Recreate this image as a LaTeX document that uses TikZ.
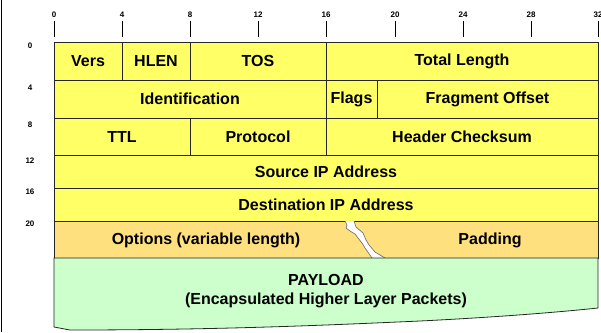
\documentclass[tikz,border=0pt]{standalone}
\usepackage{fontspec}
\setmainfont{Liberation Sans}
\usepackage{tikz}
\usetikzlibrary{positioning}
\definecolor{hdryellow}{HTML}{FFFF66}
\definecolor{optorange}{HTML}{FFE07F}
\definecolor{paygreen}{HTML}{CCFFCC}
\tikzset{field/.style = {draw=black!85, fill=hdryellow, line width=0.8pt, inner sep=0,
                         font=\fontsize{16}{18}\selectfont\bfseries}}
\tikzset{num/.style = {inner sep=0, font=\fontsize{8}{9}\selectfont\bfseries}}
\tikzset{tick/.style = {line width=0.8pt}}
\tikzset{lbl/.style = {inner sep=0, align=center, font=\fontsize{16}{19}\selectfont\bfseries}}

\begin{document}
\begin{tikzpicture}[x=1pt, y=-1pt]
      \useasboundingbox (0,0) rectangle (601,332);
      \draw [line width=1pt] (1.5,0) -- (1.5,332);

      % bit scale on top
      \node (b0) at (54, 15) [num] {0};
      \node (b4) at (122, 15) [num] {4};
      \node (b8) at (190, 15) [num] {8};
      \node (b12) at (258, 15) [num] {12};
      \node (b16) at (326, 15) [num] {16};
      \node (b20) at (395, 15) [num] {20};
      \node (b24) at (463, 15) [num] {24};
      \node (b28) at (531, 15) [num] {28};
      \node (b32) at (598, 15) [num] {32};
      \draw [tick] (54, 21) -- (54, 37);
      \draw [tick] (122, 21) -- (122, 37);
      \draw [tick] (190, 21) -- (190, 37);
      \draw [tick] (258, 21) -- (258, 37);
      \draw [tick] (326, 21) -- (326, 37);
      \draw [tick] (395, 21) -- (395, 37);
      \draw [tick] (463, 21) -- (463, 37);
      \draw [tick] (531, 21) -- (531, 37);
      \draw [tick] (598, 21) -- (598, 37);

      % byte offsets on the left
      \node (o0) at (30, 46) [num] {0};
      \node (o4) at (30, 88) [num] {4};
      \node (o8) at (30, 125) [num] {8};
      \node (o12) at (30, 161) [num] {12};
      \node (o16) at (30, 192) [num] {16};
      \node (o20) at (30, 224) [num] {20};

      % header fields
      \node (vers) at (88, 61) [field, minimum width=68, minimum height=38] {Vers};
      \node (hlen) at (156, 61) [field, minimum width=68, minimum height=38] {HLEN};
      \node (tos) at (258, 61) [field, minimum width=136, minimum height=38] {TOS};
      \node (totlen) at (462, 61) [field, minimum width=272, minimum height=38] {Total Length};

      \node (ident) at (190, 99) [field, minimum width=272, minimum height=38] {Identification};
      \node (flags) at (351.5, 99) [field, minimum width=51, minimum height=38] {Flags};
      \node (fragoff) at (487.5, 99) [field, minimum width=221, minimum height=38] {Fragment Offset};

      \node (ttl) at (122, 136.5) [field, minimum width=136, minimum height=37] {TTL};
      \node (proto) at (258, 136.5) [field, minimum width=136, minimum height=37] {Protocol};
      \node (chksum) at (462, 136.5) [field, minimum width=272, minimum height=37] {Header Checksum};

      \node (srcip) at (326, 171.5) [field, minimum width=544, minimum height=33] {Source IP Address};
      \node (dstip) at (326, 204.5) [field, minimum width=544, minimum height=33] {Destination IP Address};

      % options with break
      \node (opts) at (326, 239.5) [field, fill=optorange, minimum width=544, minimum height=37] {};
      \fill [white] (345,221) -- (347,225) -- (346,228) -- (350,231) -- (355,234) -- (358,238)
            -- (362,243) -- (365,248) -- (372,258) -- (385,258) -- (375,252) -- (369,245)
            -- (366,240) -- (363,233) -- (356,227) -- (354,221) -- cycle;
      \draw [black!60, line width=0.6pt] (345,221) -- (347,225) -- (346,228) -- (350,231) -- (355,234)
            -- (358,238) -- (362,243) -- (365,248) -- (372,258);
      \draw [black!60, line width=0.6pt] (354,221) -- (356,227) -- (363,233) -- (366,240)
            -- (369,245) -- (375,252) -- (385,258);
      \node (optlbl) at (206, 240.5) [lbl] {Options (variable length)};
      \node (padlbl) at (490, 240.5) [lbl] {Padding};

      % payload
      \draw [draw=black!85, fill=paygreen, line width=0.8pt] (54,258) -- (598,258) -- (598,308)
            .. controls (560,312) and (500,317) .. (420,321)
            .. controls (330,325) and (220,330) .. (70,330) -- (54,327) -- cycle;
      \node (payload) at (326, 291) [lbl] {PAYLOAD\\(Encapsulated Higher Layer Packets)};
    \end{tikzpicture}
\end{document}
